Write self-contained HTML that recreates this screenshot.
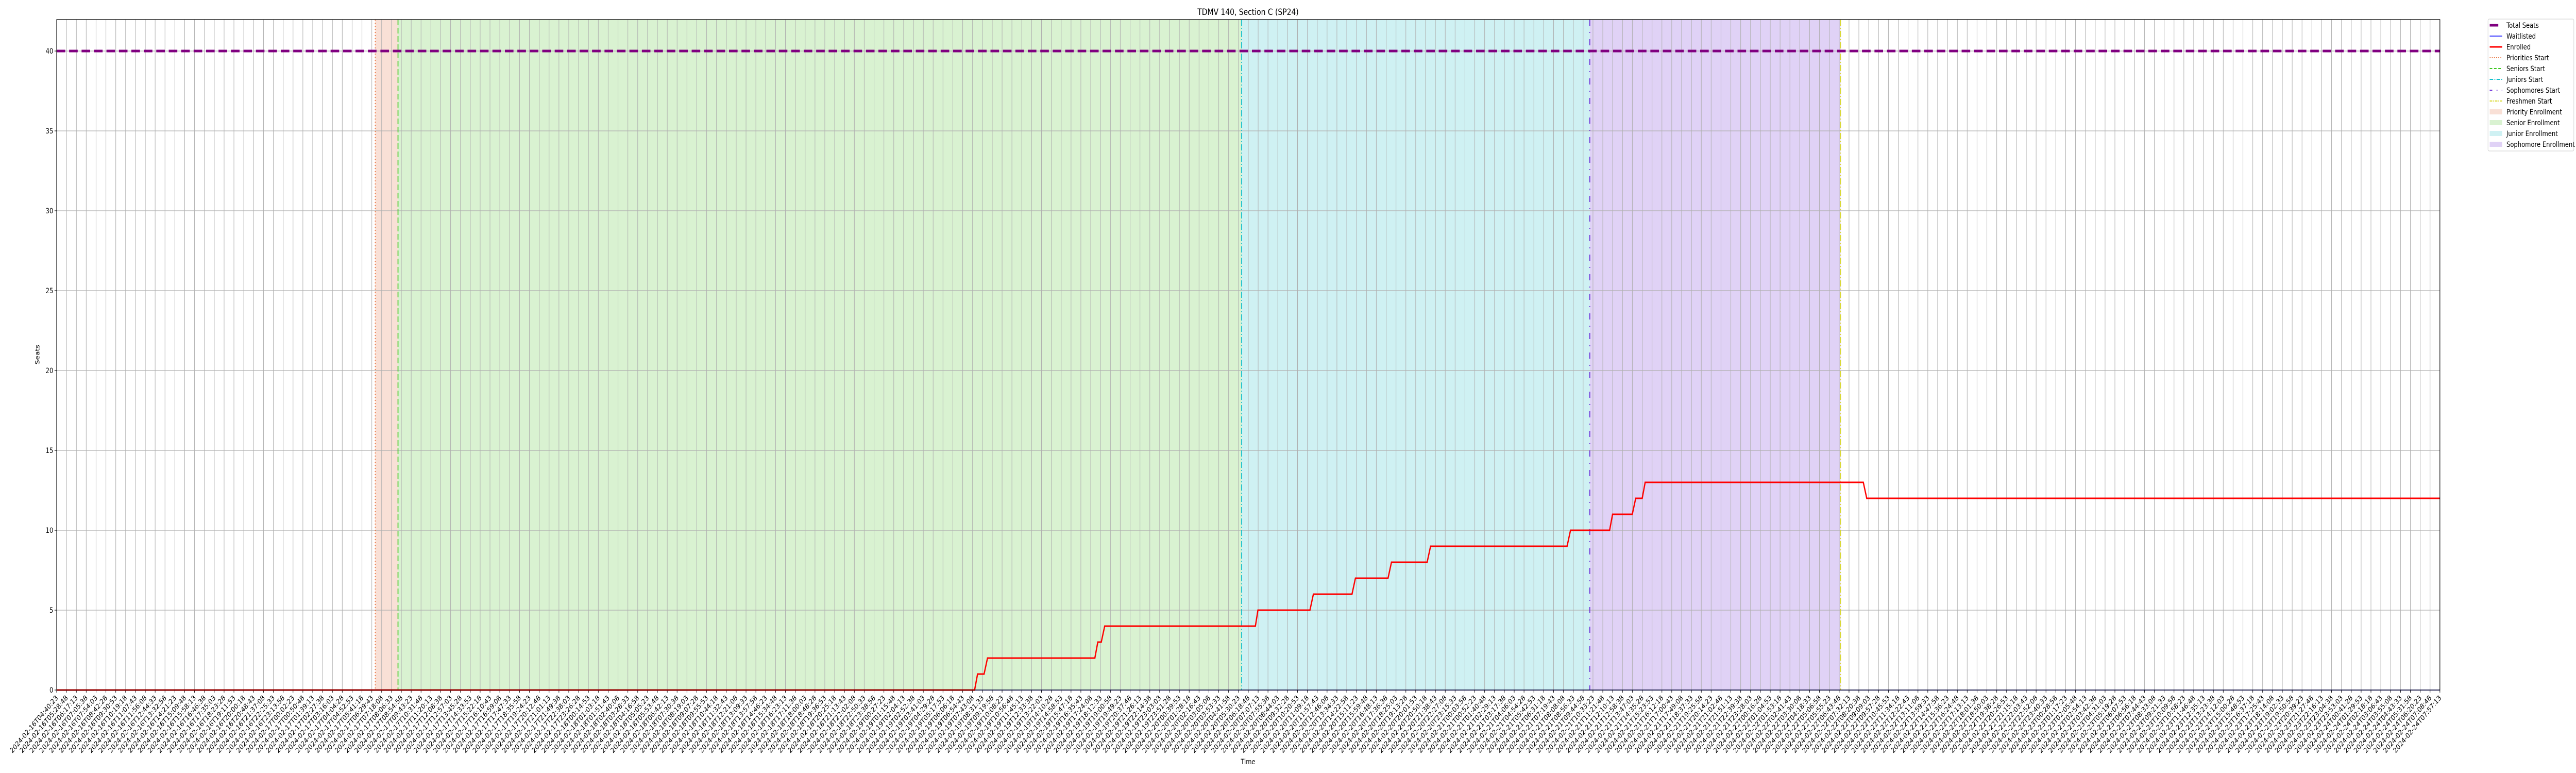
<!DOCTYPE html>
<html><head><meta charset="utf-8"><style>
html,body{margin:0;padding:0;background:#fff;overflow:hidden;}
svg{display:block;width:100vw;height:100vh;font-family:"DejaVu Sans","Liberation Sans",sans-serif;overflow:hidden;}
</style></head><body>
<svg id="chart" viewBox="0 0 6000 1500" preserveAspectRatio="none" xmlns="http://www.w3.org/2000/svg">
<text x="2907" y="29" font-size="16.7" text-anchor="middle">TDMV 140, Section C (SP24)</text>
<text x="2907" y="1483" font-size="13.9" text-anchor="middle">Time</text>
<text x="0" y="0" font-size="13.9" text-anchor="middle" transform="translate(92,688) rotate(-90)">Seats</text>
<g id="plot"></g>
<g id="legend"></g>
</svg>
<script>
// ---- data ----
const yTicks = [0, 5, 10, 15, 20, 25, 30, 35, 40];
const totalSeats = 40;
const enrolledX = [0, 93.21, 93.51, 94.17, 94.52, 105.42, 105.72, 106.07, 106.42, 121.72, 121.98, 127.26, 127.61, 131.53, 131.88, 135.19, 135.54, 139.16, 139.51, 153.37, 153.72, 157.69, 157.99, 159.99, 160.34, 161.0, 161.3, 183.45, 183.8, 242];
const enrolledY = [0, 0, 1, 1, 2, 2, 3, 3, 4, 4, 5, 5, 6, 6, 7, 7, 8, 8, 9, 9, 10, 10, 11, 11, 12, 12, 13, 13, 12, 12];
const waitlistX = [0, 242];
const waitlistY = [0, 0];
const phaseNames = ["Priorities Start", "Seniors Start", "Juniors Start", "Sophomores Start", "Freshmen Start"];
const phaseStarts = [32.35, 34.66, 120.32, 155.68, 181.14];
const tickCount = 243;
const tickLabels = [];
for (let i = 0; i < tickCount; i++) {
  const t = new Date(Date.UTC(2024, 1, 16, 4, 40, 23) + i * 2905000);
  tickLabels.push(t.toISOString().slice(0, 19));
}
// ---- layout ----
const L = 132, R = 5683, T = 38, B = 1339;
const NS = "http://www.w3.org/2000/svg";
const xS = i => L + i * (R - L) / (tickCount - 1);
const yS = v => B - v * 31;
const plot = document.getElementById('plot');
function mk(tag, attrs, parent) {
  const e = document.createElementNS(NS, tag);
  for (const k in attrs) e.setAttribute(k, attrs[k]);
  (parent || plot).appendChild(e);
  return e;
}
const shadeCols = ["rgba(230,130,90,0.25)", "rgba(120,210,90,0.28)", "rgba(70,200,210,0.26)", "rgba(140,90,220,0.27)"];
const shadeNames = ["priority-enrollment-region", "senior-enrollment-region", "junior-enrollment-region", "sophomore-enrollment-region"];
for (let k = 0; k < 4; k++) {
  const r = mk('rect', {x: xS(phaseStarts[k]), y: T, width: xS(phaseStarts[k + 1]) - xS(phaseStarts[k]), height: B - T, fill: shadeCols[k]});
  
  
}
for (let i = 0; i < tickCount; i++) {
  const x = xS(i);
  const g = mk('line', {x1: x, x2: x, y1: T, y2: B, stroke: '#b0b0b0', 'stroke-width': 1.2});
  
  
  const tk = mk('line', {x1: x, x2: x, y1: B, y2: B + 5, stroke: '#000', 'stroke-width': 1.1});
  
  
  const tl = mk('text', {x: 0, y: 0, 'font-size': 13.9, 'text-anchor': 'end', transform: `translate(${x + 4},${B + 16}) rotate(-45)`});
  tl.textContent = tickLabels[i];
  
  
}
for (const v of yTicks) {
  const y = yS(v);
  const g = mk('line', {x1: L, x2: R, y1: y, y2: y, stroke: '#b0b0b0', 'stroke-width': 1.2});
  
  
  const tk = mk('line', {x1: L - 5, x2: L, y1: y, y2: y, stroke: '#000', 'stroke-width': 1.1});
  
  
  const tl = mk('text', {x: L - 8, y: y + 5, 'font-size': 13.9, 'text-anchor': 'end'});
  tl.textContent = v;
  
  
}
const phaseCols = ["#e8703a", "#3cc81e", "#14c0cc", "#6a2bd8", "#d8d82a"];
const phaseDash = ["2,4", "11,5", "12,4,2,4", "12,12,2,12", "12,4,2,4"];
for (let k = 0; k < phaseStarts.length; k++) {
  const x = xS(phaseStarts[k]);
  const l = mk('line', {x1: x, x2: x, y1: T, y2: B, stroke: phaseCols[k], 'stroke-width': 2, 'stroke-dasharray': phaseDash[k]});
  
  
}
const ts = mk('line', {x1: L, x2: R, y1: yS(totalSeats), y2: yS(totalSeats), stroke: '#800080', 'stroke-width': 5, 'stroke-dasharray': '20,9'});


const wl = mk('polyline', {points: waitlistX.map((x, i) => xS(x) + ',' + yS(waitlistY[i])).join(' '), fill: 'none', stroke: '#0000ff', 'stroke-width': 1.5});


const en = mk('polyline', {points: enrolledX.map((x, i) => xS(x) + ',' + yS(enrolledY[i])).join(' '), fill: 'none', stroke: '#ff0000', 'stroke-width': 3, 'stroke-linejoin': 'miter'});


const fr = mk('rect', {x: L, y: T, width: R - L, height: B - T, fill: 'none', stroke: '#000', 'stroke-width': 1.3});


const lg = document.getElementById('legend');
mk('rect', {x: 5795, y: 37, width: 200, height: 256, fill: '#fff', stroke: '#ccc', 'stroke-width': 1, rx: 3}, lg);
const legItems = [
  ["Total Seats", "line", "#800080", 5, null],
  ["Waitlisted", "line", "#0000ff", 1.5, null],
  ["Enrolled", "line", "#ff0000", 3, null],
  ["Priorities Start", "line", "#e8703a", 2, "2,3"],
  ["Seniors Start", "line", "#3cc81e", 2, "6,4"],
  ["Juniors Start", "line", "#14c0cc", 2, "8,3,2,3"],
  ["Sophomores Start", "line", "#6a2bd8", 2, "6,10,2,10"],
  ["Freshmen Start", "line", "#d8d82a", 2, "6,2,2,2"],
  ["Priority Enrollment", "box", "rgba(230,130,90,0.25)"],
  ["Senior Enrollment", "box", "rgba(120,210,90,0.28)"],
  ["Junior Enrollment", "box", "rgba(70,200,210,0.26)"],
  ["Sophomore Enrollment", "box", "rgba(140,90,220,0.27)"]
];
legItems.forEach((it, i) => {
  const y = 49 + i * 21;
  const g = mk('g', {}, lg);
  
  
  if (it[1] === 'line') {
    const a = {x1: 5799, x2: i === 0 ? 5819 : 5828, y1: y, y2: y, stroke: it[2], 'stroke-width': it[3]};
    if (it[4]) a['stroke-dasharray'] = it[4];
    mk('line', a, g);
  } else {
    mk('rect', {x: 5799, y: y - 5, width: 29, height: 10, fill: it[2]}, g);
  }
  const t = mk('text', {x: 5838, y: y + 5, 'font-size': 13.9}, g);
  t.textContent = it[0];
});
</script>
</body></html>
